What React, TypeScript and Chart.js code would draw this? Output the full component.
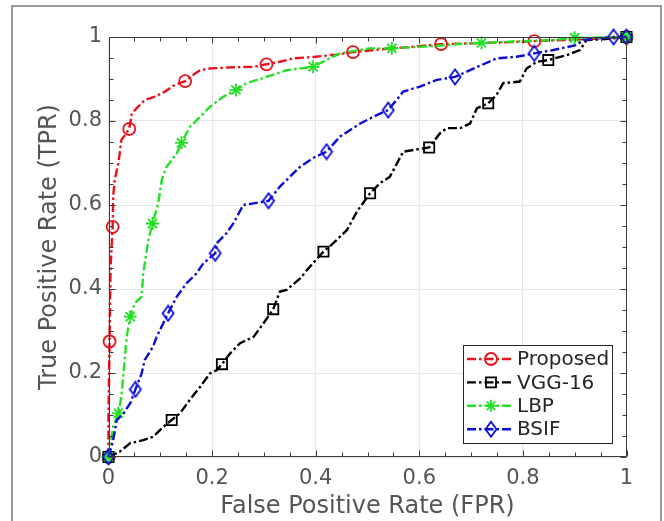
import React, { useEffect, useRef } from "react";
import { Chart, registerables } from "chart.js";

Chart.register(...registerables);

// ---------- data ----------
const seriesNames = ["Proposed", "VGG-16", "LBP", "BSIF"];

const proposedX = [0, 0, 0.002, 0.004, 0.008, 0.009, 0.012, 0.019, 0.025, 0.040, 0.045, 0.054, 0.070, 0.090, 0.109, 0.128, 0.148, 0.167, 0.177, 0.196, 0.241, 0.280, 0.305, 0.331, 0.357, 0.400, 0.440, 0.472, 0.520, 0.580, 0.642, 0.700, 0.760, 0.822, 0.880, 0.940, 1];
const proposedY = [0, 0.10, 0.275, 0.45, 0.548, 0.62, 0.66, 0.699, 0.755, 0.781, 0.818, 0.830, 0.850, 0.858, 0.870, 0.886, 0.895, 0.913, 0.921, 0.925, 0.928, 0.929, 0.935, 0.941, 0.949, 0.953, 0.958, 0.964, 0.970, 0.976, 0.983, 0.985, 0.987, 0.990, 0.993, 0.996, 1];
const proposedMarkX = [0, 0.002, 0.008, 0.040, 0.148, 0.305, 0.472, 0.642, 0.822, 1];
const proposedMarkY = [0, 0.275, 0.548, 0.781, 0.895, 0.935, 0.964, 0.983, 0.990, 1];

const vggX = [0, 0.022, 0.042, 0.067, 0.086, 0.106, 0.122, 0.138, 0.157, 0.177, 0.196, 0.209, 0.219, 0.235, 0.254, 0.280, 0.299, 0.318, 0.331, 0.344, 0.370, 0.383, 0.415, 0.434, 0.460, 0.480, 0.505, 0.524, 0.543, 0.569, 0.619, 0.640, 0.653, 0.679, 0.698, 0.711, 0.733, 0.749, 0.762, 0.794, 0.807, 0.827, 0.849, 0.885, 0.910, 0.923, 0.960, 1];
const vggY = [0, 0.013, 0.033, 0.040, 0.048, 0.072, 0.088, 0.104, 0.136, 0.167, 0.199, 0.207, 0.221, 0.247, 0.271, 0.286, 0.318, 0.352, 0.394, 0.398, 0.425, 0.445, 0.489, 0.509, 0.540, 0.585, 0.628, 0.652, 0.667, 0.727, 0.737, 0.771, 0.783, 0.783, 0.794, 0.830, 0.842, 0.862, 0.890, 0.894, 0.925, 0.941, 0.945, 0.957, 0.969, 0.993, 0.995, 1];
const vggMarkX = [0, 0.122, 0.219, 0.318, 0.415, 0.505, 0.619, 0.733, 0.849, 1];
const vggMarkY = [0, 0.088, 0.221, 0.352, 0.489, 0.628, 0.737, 0.842, 0.945, 1];

const lbpX = [0, 0.009, 0.019, 0.025, 0.029, 0.035, 0.042, 0.051, 0.064, 0.067, 0.077, 0.085, 0.096, 0.103, 0.112, 0.132, 0.141, 0.157, 0.177, 0.196, 0.222, 0.246, 0.267, 0.305, 0.344, 0.395, 0.420, 0.447, 0.505, 0.547, 0.620, 0.698, 0.720, 0.800, 0.860, 0.900, 0.950, 1];
const lbpY = [0, 0.072, 0.104, 0.144, 0.199, 0.286, 0.334, 0.366, 0.382, 0.437, 0.517, 0.556, 0.604, 0.660, 0.691, 0.723, 0.748, 0.786, 0.810, 0.834, 0.858, 0.874, 0.890, 0.905, 0.921, 0.929, 0.945, 0.961, 0.973, 0.973, 0.978, 0.985, 0.986, 0.990, 0.993, 0.998, 0.999, 1];
const lbpMarkX = [0, 0.019, 0.042, 0.085, 0.141, 0.246, 0.395, 0.547, 0.720, 0.900, 1];
const lbpMarkY = [0, 0.104, 0.334, 0.556, 0.748, 0.874, 0.929, 0.973, 0.986, 0.998, 1];

const bsifX = [0, 0.009, 0.016, 0.029, 0.042, 0.052, 0.064, 0.070, 0.086, 0.093, 0.115, 0.132, 0.151, 0.170, 0.183, 0.206, 0.209, 0.228, 0.241, 0.260, 0.280, 0.309, 0.331, 0.350, 0.370, 0.395, 0.421, 0.447, 0.486, 0.518, 0.540, 0.569, 0.601, 0.634, 0.669, 0.698, 0.749, 0.788, 0.822, 0.859, 0.904, 0.917, 0.975, 1];
const bsifY = [0, 0.040, 0.088, 0.104, 0.128, 0.161, 0.199, 0.231, 0.263, 0.286, 0.342, 0.382, 0.414, 0.437, 0.461, 0.485, 0.509, 0.533, 0.556, 0.600, 0.604, 0.610, 0.644, 0.667, 0.691, 0.712, 0.727, 0.763, 0.794, 0.814, 0.826, 0.870, 0.882, 0.898, 0.905, 0.921, 0.949, 0.953, 0.961, 0.969, 0.981, 0.993, 1.0, 1];
const bsifMarkX = [0, 0.052, 0.115, 0.206, 0.309, 0.421, 0.540, 0.669, 0.822, 0.975, 1];
const bsifMarkY = [0, 0.161, 0.342, 0.485, 0.610, 0.727, 0.826, 0.905, 0.961, 1.0, 1];

const majorTicks = [0, 0.2, 0.4, 0.6, 0.8, 1];
const minorTicks = [0.05, 0.1, 0.15, 0.25, 0.3, 0.35, 0.45, 0.5, 0.55, 0.65, 0.7, 0.75, 0.85, 0.9, 0.95];

// ---------- styles ----------
const FONT = "'DejaVu Sans', Verdana, sans-serif";
const TEXT_GRAY = "#555555";
const DASH = [9, 3, 2.5, 3];
const LINE_W = 2.4;
const seriesStyles = [
  { color: "#e8121a", marker: "circle" },
  { color: "#000000", marker: "square" },
  { color: "#22e022", marker: "star" },
  { color: "#0c0cd8", marker: "diamond" },
];

function zip(xs: number[], ys: number[]) {
  return xs.map((x, i) => ({ x, y: ys[i] }));
}

function makeDiamond(color: string) {
  const c = document.createElement("canvas");
  c.width = 14;
  c.height = 18;
  const g = c.getContext("2d")!;
  g.strokeStyle = color;
  g.lineWidth = 1.8;
  g.beginPath();
  g.moveTo(7, 1.5);
  g.lineTo(12.5, 9);
  g.lineTo(7, 16.5);
  g.lineTo(1.5, 9);
  g.closePath();
  g.stroke();
  return c;
}

function drawMarker(ctx: CanvasRenderingContext2D, kind: string, x: number, y: number, color: string) {
  ctx.save();
  ctx.strokeStyle = color;
  ctx.lineWidth = 1.8;
  ctx.setLineDash([]);
  ctx.beginPath();
  if (kind === "circle") {
    ctx.arc(x, y, 6, 0, Math.PI * 2);
  } else if (kind === "square") {
    ctx.rect(x - 5, y - 5, 10, 10);
  } else if (kind === "diamond") {
    ctx.moveTo(x, y - 7.5);
    ctx.lineTo(x + 5.5, y);
    ctx.lineTo(x, y + 7.5);
    ctx.lineTo(x - 5.5, y);
    ctx.closePath();
  } else {
    const r = 6;
    ctx.moveTo(x - r, y);
    ctx.lineTo(x + r, y);
    ctx.moveTo(x, y - r);
    ctx.lineTo(x, y + r);
    const d = r * Math.SQRT1_2;
    ctx.moveTo(x - d, y - d);
    ctx.lineTo(x + d, y + d);
    ctx.moveTo(x - d, y + d);
    ctx.lineTo(x + d, y - d);
  }
  ctx.stroke();
  ctx.restore();
}

const boxPlugin = {
  id: "matlabBox",
  afterDatasetsDraw(chart: any) {
    const { ctx, chartArea, scales } = chart;
    const { left, right, top, bottom } = chartArea;
    const xs = scales.x;
    const ys = scales.y;
    ctx.save();
    ctx.strokeStyle = "#3a3a3a";
    ctx.lineWidth = 1;
    ctx.setLineDash([]);
    ctx.beginPath();
    const L = Math.round(left) + 0.5;
    const R = Math.round(right) - 0.5;
    const T = Math.round(top) + 0.5;
    const B = Math.round(bottom) - 0.5;
    ctx.rect(L, T, R - L, B - T);
    const tick = (v: number, len: number) => {
      const px = Math.round(xs.getPixelForValue(v)) + 0.5;
      ctx.moveTo(px, B);
      ctx.lineTo(px, B - len);
      ctx.moveTo(px, T);
      ctx.lineTo(px, T + len);
      const py = Math.round(ys.getPixelForValue(v)) + 0.5;
      ctx.moveTo(L, py);
      ctx.lineTo(L + len, py);
      ctx.moveTo(R, py);
      ctx.lineTo(R - len, py);
    };
    majorTicks.forEach((v) => tick(v, 6));
    minorTicks.forEach((v) => tick(v, 4));
    ctx.stroke();
    ctx.restore();
  },
  afterDraw(chart: any) {
    const { ctx, chartArea } = chart;
    const bx1 = chartArea.right - 14.5;
    const by1 = chartArea.bottom - 14;
    const bw = 149;
    const bh = 98;
    const bx0 = bx1 - bw;
    const by0 = by1 - bh;
    ctx.save();
    ctx.fillStyle = "#ffffff";
    ctx.fillRect(bx0, by0, bw, bh);
    ctx.strokeStyle = "#262626";
    ctx.lineWidth = 1;
    ctx.strokeRect(Math.round(bx0) + 0.5, Math.round(by0) + 0.5, bw, bh);
    ctx.font = `20px ${FONT}`;
    ctx.textBaseline = "middle";
    ctx.textAlign = "left";
    seriesNames.forEach((name, i) => {
      const st = seriesStyles[i];
      const cy = by0 + 14 + i * 23.4;
      ctx.strokeStyle = st.color;
      ctx.lineWidth = LINE_W;
      ctx.setLineDash(DASH);
      ctx.beginPath();
      ctx.moveTo(bx0 + 4, cy);
      ctx.lineTo(bx0 + 50, cy);
      ctx.stroke();
      ctx.setLineDash([]);
      drawMarker(ctx, st.marker, bx0 + 28, cy, st.color);
      ctx.fillStyle = "#262626";
      ctx.fillText(name, bx0 + 54, cy + 1);
    });
    ctx.restore();
  },
};

export default function App() {
  const ref = useRef<HTMLCanvasElement | null>(null);

  useEffect(() => {
    if (!ref.current) return;
    const lines = [
      [proposedX, proposedY, proposedMarkX, proposedMarkY],
      [vggX, vggY, vggMarkX, vggMarkY],
      [lbpX, lbpY, lbpMarkX, lbpMarkY],
      [bsifX, bsifY, bsifMarkX, bsifMarkY],
    ];
    const datasets: any[] = [];
    lines.forEach(([lx, ly, mx, my], i) => {
      const st = seriesStyles[i];
      const order = 4 - i;
      datasets.push({
        label: seriesNames[i],
        data: zip(lx, ly),
        showLine: true,
        borderColor: st.color,
        borderWidth: LINE_W,
        borderDash: DASH,
        pointRadius: 0,
        fill: false,
        tension: 0,
        clip: false,
        order,
      });
      let pointStyle: any = "circle";
      let radius = 6;
      if (st.marker === "square") {
        pointStyle = "rect";
        radius = 7.2;
      } else if (st.marker === "star") {
        pointStyle = "star";
        radius = 6.5;
      } else if (st.marker === "diamond") {
        pointStyle = makeDiamond(st.color);
      }
      datasets.push({
        label: seriesNames[i] + " markers",
        data: zip(mx, my),
        showLine: false,
        pointStyle,
        pointRadius: radius,
        pointBorderColor: st.color,
        pointBackgroundColor: "rgba(0,0,0,0)",
        pointBorderWidth: 1.8,
        clip: false,
        order,
      });
    });

    const fmt = (v: any) => String(Math.round(Number(v) * 10) / 10);

    const chart = new Chart(ref.current, {
      type: "scatter",
      data: { datasets },
      plugins: [boxPlugin],
      options: {
        animation: false,
        responsive: false,
        events: [],
        layout: { padding: { left: 0, top: 37, right: 37.5, bottom: 0 } },
        plugins: {
          legend: { display: false },
          tooltip: { enabled: false },
        },
        scales: {
          x: {
            type: "linear",
            min: 0,
            max: 1,
            ticks: {
              stepSize: 0.2,
              padding: 9,
              maxRotation: 0,
              color: TEXT_GRAY,
              font: { family: FONT, size: 21 },
              callback: fmt,
            },
            grid: { color: "#e6e6e6", lineWidth: 1, drawTicks: false },
            border: { display: false },
            title: {
              display: true,
              text: "False Positive Rate (FPR)",
              color: TEXT_GRAY,
              font: { family: FONT, size: 24 },
              padding: { top: 0, bottom: 0 },
            },
            afterFit: (s: any) => {
              s.height = 64;
            },
          },
          y: {
            type: "linear",
            min: 0,
            max: 1,
            ticks: {
              stepSize: 0.2,
              padding: 6.5,
              color: TEXT_GRAY,
              font: { family: FONT, size: 21 },
              callback: fmt,
            },
            grid: { color: "#e6e6e6", lineWidth: 1, drawTicks: false },
            border: { display: false },
            title: {
              display: true,
              text: "True Positive Rate (TPR)",
              color: TEXT_GRAY,
              font: { family: FONT, size: 24 },
              padding: { top: 35, bottom: 0 },
            },
            afterFit: (s: any) => {
              s.width = 108.5;
            },
          },
        },
      } as any,
    });
    return () => chart.destroy();
  }, []);

  return (
    <div style={{ position: "fixed", left: 0, top: 0, width: 664, height: 521, background: "#ffffff", overflow: "hidden" }}>
      <div
        style={{
          position: "absolute",
          left: 11,
          top: 5,
          width: 647,
          height: 540,
          borderLeft: "2px solid #9a9a9a",
          borderTop: "2px solid #9a9a9a",
          borderRight: "2px solid #9a9a9a",
        }}
      />
      <canvas ref={ref} width={664} height={521} style={{ position: "absolute", left: 0, top: 0, display: "block" }} />
    </div>
  );
}
